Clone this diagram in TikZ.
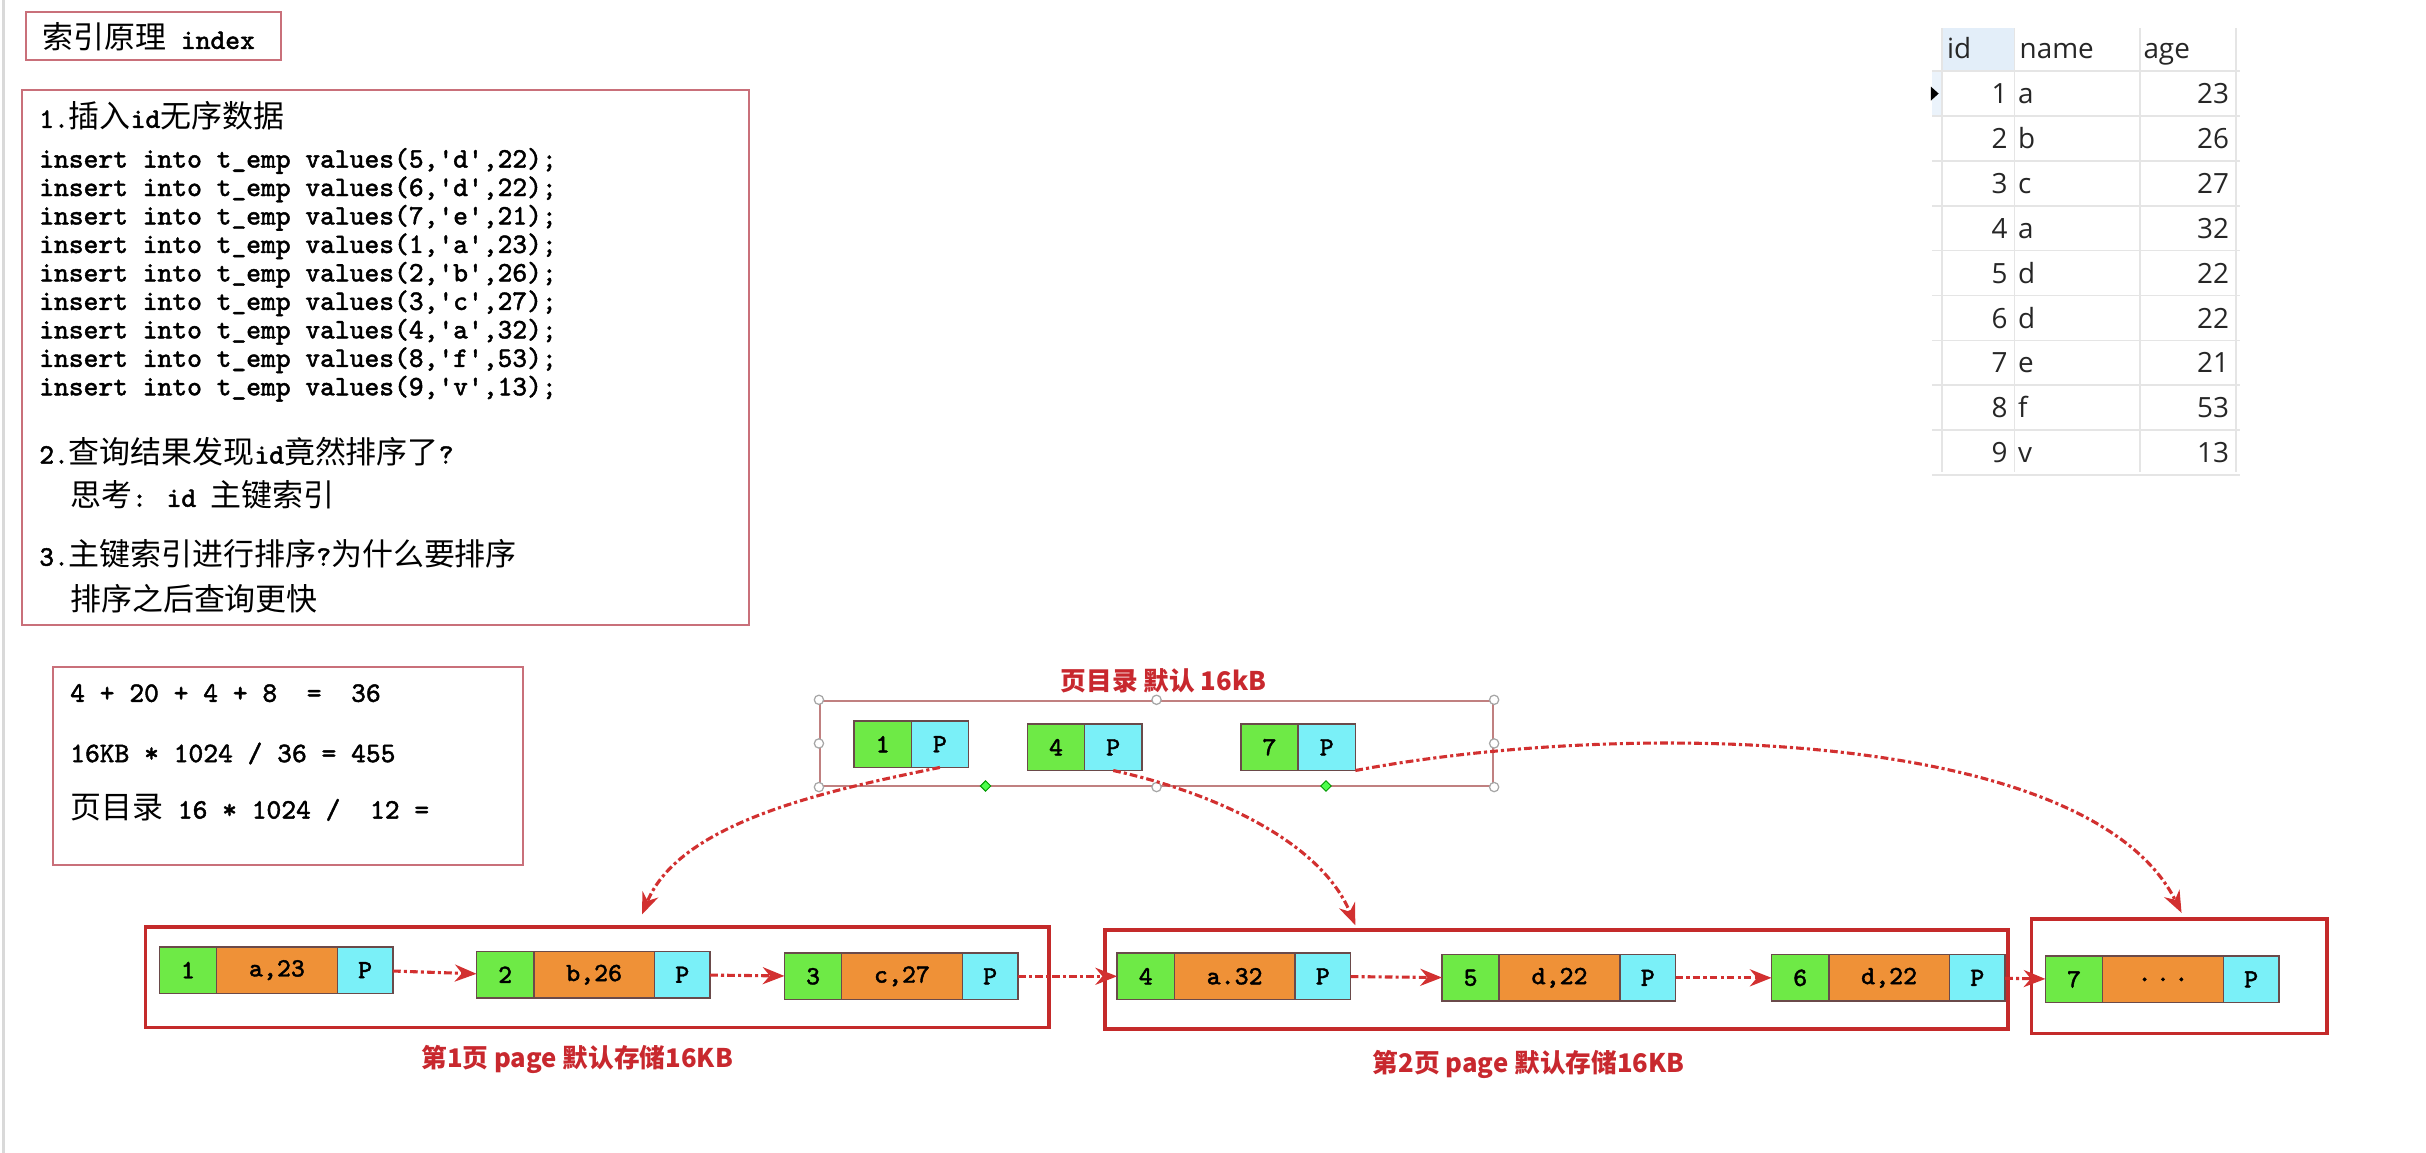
\documentclass[tikz,border=0pt]{standalone}
\usepackage{fontspec}
\usepackage{tikz}
\usetikzlibrary{arrows.meta,positioning,shapes.geometric}
\newfontfamily\codefont{Latin Modern Mono}[FakeBold=1.5]
\newfontfamily\cjk{Noto Sans CJK SC}
\newfontfamily\tabfont{Open Sans}
\newcommand\zh[1]{{\cjk\fontsize{10}{10}\selectfont #1}}
\definecolor{keygreen}{HTML}{6EEA46}
\definecolor{dataorange}{HTML}{EF9137}
\definecolor{ptrcyan}{HTML}{7AF0F8}
\definecolor{cellline}{HTML}{6A4A4A}
\definecolor{pagered}{HTML}{C42A2A}
\definecolor{boxpink}{HTML}{C9707A}
\definecolor{dirred}{HTML}{C08080}
\definecolor{linkred}{HTML}{D23030}
\definecolor{labelred}{HTML}{C8282E}
\definecolor{headblue}{HTML}{E3EEF9}
\tikzset{notebox/.style={draw=boxpink,line width=.7pt,inner sep=0pt}, pagebox/.style={draw=pagered,line width=1.2pt,inner sep=0pt},dirbox/.style={draw=dirred,line width=.7pt,inner sep=0pt},codeline/.style={anchor=west,inner sep=0pt,font=\codefont\fontsize{9.1}{9.2}\selectfont}, keycell/.style={draw=cellline,fill=keygreen,line width=.5pt,minimum width=18.5pt,minimum height=15pt,inner sep=0pt,outer sep=0pt,font=\codefont\fontsize{8.5}{8.5}\selectfont},datacell/.style={keycell,fill=dataorange,minimum width=39pt},ptrcell/.style={keycell,fill=ptrcyan,minimum width=18pt}, link/.style={draw=linkred,line width=1pt,dash pattern=on 2.5pt off 1pt on 1pt off 1pt,-{Stealth[length=7pt,width=5.5pt]}},pagelabel/.style={text=labelred,font=\cjk\bfseries\fontsize{8.3}{8.3}\selectfont,inner sep=0pt},handle/.style={circle,draw=gray!70,fill=white,line width=.4pt,minimum size=3pt,inner sep=0pt},greenhandle/.style={diamond,draw=green!60!black,fill=green!70,line width=.3pt,minimum size=3.5pt,inner sep=0pt},tabtext/.style={font=\tabfont\fontsize{9}{9}\selectfont,inner sep=0pt,text=black!85},gridline/.style={draw=gray!20,line width=.5pt}}
\begin{document}
\begin{tikzpicture}[x=0.5pt,y=-0.5pt,node distance=0pt]
\useasboundingbox (0,0) rectangle (1568,745);
\draw[gray!30,line width=1pt] (2,0) -- (2,745);
% notes on the left
\node[notebox,minimum width=82.5pt,minimum height=15.5pt,anchor=west] (title) at (16,23.5) {};
\node[codeline] (titletext) at (27,24) {\zh{索引原理} index};
\node[notebox,minimum width=235pt,minimum height=173pt] (intro) at (249,231) {};
\node[codeline] (step1) at (25,75) {1.\zh{插入}id\zh{无序数据}};
\foreach \v [count=\i] in {{5,'d',22},{6,'d',22},{7,'e',21},{1,'a',23},{2,'b',26},{3,'c',27},{4,'a',32},{8,'f',53},{9,'v',13}}
  \node[codeline] (ins\i) at (25,{104+18.4*(\i-1)}) {insert into t\_emp values(\v);};
\node[codeline] (step2) at (25,292) {2.\zh{查询结果发现}id\zh{竟然排序了}?};
\node[codeline] (think) at (45,320) {\zh{思考}: id \zh{主键索引}};
\node[codeline] (step3) at (25,358) {3.\zh{主键索引进行排序}?\zh{为什么要排序}};
\node[codeline] (faster) at (45,387) {\zh{排序之后查询更快}};
\node[notebox,minimum width=152pt,minimum height=64pt] (calc) at (186,495) {};
\node[codeline] (calc1) at (45,448) {4 + 20 + 4 + 8~ =~ 36};
\node[codeline] (calc2) at (45,487) {16KB * 1024 / 36 = 455};
\node[codeline] (calc3) at (45,522) {\zh{页目录} 16 * 1024 /~ 12 =};
% query result table
\fill[headblue] (1255,18) rectangle (1302,46);
\fill[headblue!70] (1249,46) rectangle (1255,75);
\foreach \y in {46,75,...,307} \draw[gridline] (1249,\y) -- (1448,\y);
\foreach \x in {1255,1302,1383,1445} \draw[gridline] (\x,18) -- (\x,305);
\fill[black] (1248,56) -- (1253,60.5) -- (1248,65) -- cycle;
\node[tabtext,anchor=base west] (hid) at (1258,38) {id};
\node[tabtext,anchor=base west] (hname) at (1305,38) {name};
\node[tabtext,anchor=base west] (hage) at (1385,38) {age};
\foreach \i/\n/\a in {1/a/23,2/b/26,3/c/27,4/a/32,5/d/22,6/d/22,7/e/21,8/f/53,9/v/13}{
  \node[tabtext,anchor=base east] (tid\i) at (1298,{67+29*(\i-1)}) {\i};
  \node[tabtext,anchor=base west] (tname\i) at (1304,{67+29*(\i-1)}) {\n};
  \node[tabtext,anchor=base east] (tage\i) at (1441,{67+29*(\i-1)}) {\a};
}
% page directory
\node[dirbox,minimum width=217.5pt,minimum height=27.5pt] (dir) at (747.5,480.5) {};
\node[pagelabel] (dirlabel) at (752,440) {页目录 默认 16kB};
\foreach \k/\x/\y in {1/552/481,4/664/483,7/802/483}{
  \node[keycell] (dk\k) at (\x+18.5,\y) {\k};
  \node[ptrcell,minimum width=18.5pt,right=of dk\k] (dp\k) {P};
}
\foreach \p/\q in {nw/north west,n/north,ne/north east,w/west,e/east,sw/south west,s/south,se/south east}
  \node[handle] (h\p) at (dir.\q) {};
\node[greenhandle] (g1) at (637,508) {};
\node[greenhandle] (g2) at (857,508) {};
% data pages
\node[pagebox,minimum width=292pt,minimum height=32.5pt] (page1) at (386,631.5) {};
\node[pagebox,minimum width=292pt,minimum height=32pt] (page2) at (1006,633) {};
\node[pagebox,minimum width=95.5pt,minimum height=37pt] (page3) at (1408.5,631) {};
\node[pagelabel] (page1label) at (373,685) {第1页 page 默认存储16KB};
\node[pagelabel] (page2label) at (988,688) {第2页 page 默认存储16KB};
\foreach \k/\x/\y/\d in {1/103/627/{a,23},2/308/630/{b,26},3/507/631/{c,27},4/722/631/{a.32},5/932/632/{d,22},6/1145/632/{d,22},7/1322/633/{.\,.\,.}}{
  \node[keycell] (k\k) at (\x+18.5,\y) {\k};
  \node[datacell,right=of k\k] (d\k) {\d};
  \node[ptrcell,right=of d\k] (p\k) {P};
}
\foreach \a/\b in {1/2,2/3,3/4,4/5,5/6,6/7}
  \draw[link] (p\a) -- (k\b);
\coordinate (to1) at (415,591);
\coordinate (to2) at (876,598);
\coordinate (to3) at (1410,590);
\draw[link] (dp1.south) .. controls (540,510) and (440,530) .. (to1);
\draw[link] (dp4.south) .. controls (775,510) and (852,540) .. (to2);
\draw[link] (dp7.south east) .. controls (1050,465) and (1350,470) .. (to3);
\end{tikzpicture}
\end{document}
